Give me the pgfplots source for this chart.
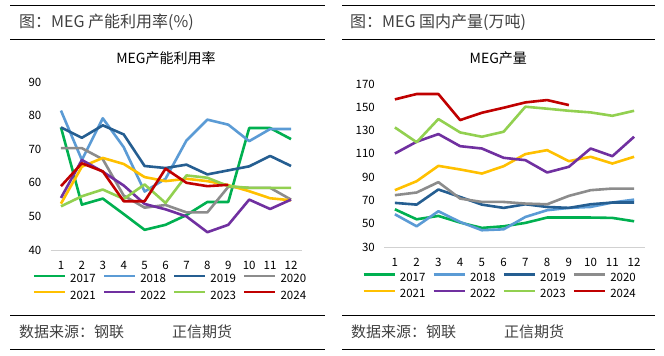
\documentclass[border=0pt]{standalone}
\usepackage{fontspec}
\setmainfont{Noto Sans CJK SC}
\usepackage{pgfplots}
\pgfplotsset{compat=1.18}
\definecolor{c17}{HTML}{00B050}
\definecolor{c18}{HTML}{5B9BD5}
\definecolor{c19}{HTML}{255E91}
\definecolor{c20}{HTML}{8C8C8C}
\definecolor{c21}{HTML}{FFC000}
\definecolor{c22}{HTML}{7030A0}
\definecolor{c23}{HTML}{92D050}
\definecolor{c24}{HTML}{C00000}
\definecolor{hdr}{HTML}{404040}
\pgfplotsset{
  meg/.style={
    scale only axis,
    axis x line*=bottom, axis y line*=left,
    y axis line style={draw=none},
    x axis line style={draw=black!18, line width=0.8pt, -},
    major tick length=0pt,
    xmin=0.5, xmax=12.5, xtick={1,...,12},
    /pgf/number format/assume math mode=true,
    tick label style={font=\fontsize{11.5}{12}\selectfont, text=black},
    yticklabel style={anchor=east, inner sep=0pt, xshift=-9pt},
    xticklabel style={anchor=center, inner sep=0pt, yshift=-15pt},
    title style={font=\fontsize{14}{15}\selectfont, text=black},
    every axis plot/.append style={line width=2.6pt, no markers, line join=round},
    legend columns=4,
    legend cell align=left,
    legend image code/.code={\draw[#1] (0pt,3.5pt) -- (31pt,3.5pt);},
    legend style={draw=none, fill=none, inner sep=0pt, anchor=north west,
      font=\fontsize{11.5}{12}\selectfont,
      nodes={inner sep=0pt, text height=8pt, text depth=1pt},
      row sep=7pt,
      /tikz/every odd column/.append style={column sep=4pt},
      /tikz/every even column/.append style={column sep=7pt}},
  }
}
\begin{document}
\begin{tikzpicture}
\useasboundingbox (0pt,0pt) rectangle (664pt,-356pt);
% frame lines
\draw[line width=1pt] (10pt,-5.5pt) -- (325pt,-5.5pt);
\draw[line width=1pt] (10pt,-39.5pt) -- (325pt,-39.5pt);
\draw[line width=1pt] (10pt,-315.5pt) -- (325pt,-315.5pt);
\draw[line width=1pt] (10pt,-349pt) -- (325pt,-349pt);
\draw[line width=1pt] (342pt,-5.5pt) -- (655pt,-5.5pt);
\draw[line width=1pt] (342pt,-39.5pt) -- (655pt,-39.5pt);
\draw[line width=1pt] (342pt,-315.5pt) -- (655pt,-315.5pt);
\draw[line width=1pt] (342pt,-349pt) -- (655pt,-349pt);
\node[anchor=west, inner sep=0pt, text=hdr, font=\fontsize{16}{17}\selectfont] at (19pt,-22pt) {图：MEG 产能利用率(\%)};
\node[anchor=west, inner sep=0pt, text=hdr, font=\fontsize{16}{17}\selectfont] at (350pt,-22pt) {图：MEG 国内产量(万吨)};
\node[anchor=west, inner sep=0pt, text=hdr, font=\fontsize{15}{16}\selectfont] at (19pt,-332pt) {数据来源：钢联};
\node[anchor=west, inner sep=0pt, text=hdr, font=\fontsize{15}{16}\selectfont] at (172pt,-332pt) {正信期货};
\node[anchor=west, inner sep=0pt, text=hdr, font=\fontsize{15}{16}\selectfont] at (351pt,-332pt) {数据来源：钢联};
\node[anchor=west, inner sep=0pt, text=hdr, font=\fontsize{15}{16}\selectfont] at (504pt,-332pt) {正信期货};

% left chart
\begin{axis}[meg,
  at={(50.5pt,-250pt)}, anchor=south west,
  width=251pt, height=168pt,
  ymin=40, ymax=90, ytick={40,50,...,90},
  title={MEG产能利用率}, title style={at={(0.46,1)}, anchor=center, yshift=18pt},
  legend style={at={(-0.072,-0.145)}},
]
\addplot[c17] coordinates {(1,76.5)(2,53.5)(3,55.3)(4,50.7)(5,46)(6,47.5)(7,50.4)(8,54.3)(9,54.3)(10,76.3)(11,76.3)(12,73)};
\addplot[c18] coordinates {(1,81.5)(2,66.8)(3,79.2)(4,70.6)(5,57.4)(6,61.2)(7,72.6)(8,78.8)(9,77.3)(10,72.4)(11,76)(12,76)};
\addplot[c19] coordinates {(1,76.5)(2,73.4)(3,77.1)(4,74.4)(5,65)(6,64.4)(7,65.4)(8,62.5)(9,63.7)(10,64.9)(11,68)(12,65)};
\addplot[c20] coordinates {(1,70.3)(2,70.3)(3,67)(4,56.2)(5,52.6)(6,53.4)(7,51.2)(8,51.2)(9,58.8)(10,58.5)(11,58.5)(12,55)};
\addplot[c21] coordinates {(1,53.8)(2,64.8)(3,67.4)(4,65.6)(5,61.7)(6,60.5)(7,61.2)(8,60.5)(9,59.3)(10,57.5)(11,55.4)(12,54.8)};
\addplot[c22] coordinates {(1,55.5)(2,66.8)(3,63.3)(4,59.2)(5,53.7)(6,52.1)(7,50)(8,45.3)(9,47.5)(10,55)(11,52.2)(12,55)};
\addplot[c23] coordinates {(1,53)(2,56)(3,58)(4,55.2)(5,59.5)(6,54)(7,62.2)(8,61.5)(9,59)(10,58.5)(11,58.5)(12,58.5)};
\addplot[c24] coordinates {(1,59)(2,65.8)(3,63.4)(4,54.5)(5,54.5)(6,64.2)(7,60)(8,59)(9,59.4)};
\legend{2017,2018,2019,2020,2021,2022,2023,2024}
\end{axis}

% right chart
\begin{axis}[meg,
  at={(384pt,-247pt)}, anchor=south west,
  width=261pt, height=163pt,
  ymin=30, ymax=170, ytick={30,50,...,170},
  title={MEG产量}, title style={at={(0.438,1)}, anchor=center, yshift=20pt},
  legend style={at={(-0.084,-0.16)}},
]
\addplot[c17] coordinates {(1,62.4)(2,53.8)(3,56.7)(4,51)(5,46.4)(6,47.8)(7,50.7)(8,55.3)(9,55.3)(10,55.3)(11,55)(12,52.1)};
\addplot[c18] coordinates {(1,58.1)(2,47.8)(3,60.7)(4,51.5)(5,44.4)(6,45.2)(7,55.8)(8,61.6)(9,63.6)(10,64.4)(11,68.2)(12,70.7)};
\addplot[c19] coordinates {(1,67.9)(2,66.4)(3,79.4)(4,73)(5,66.4)(6,63.6)(7,66.7)(8,64.4)(9,63.6)(10,66.7)(11,68.2)(12,68.2)};
\addplot[c20] coordinates {(1,74.5)(2,76.8)(3,85.7)(4,71.6)(5,68.7)(6,68.7)(7,67.3)(8,66.7)(9,73.9)(10,78.8)(11,80.2)(12,80.2)};
\addplot[c21] coordinates {(1,78.8)(2,86.5)(3,99.7)(4,96.6)(5,93.1)(6,99.4)(7,109.8)(8,113.2)(9,103.7)(10,107.5)(11,101.7)(12,107.5)};
\addplot[c22] coordinates {(1,110.3)(2,120.4)(3,127)(4,116.6)(5,114.6)(6,106.6)(7,104.6)(8,94)(9,98.9)(10,114.6)(11,108)(12,124.7)};
\addplot[c23] coordinates {(1,132.7)(2,120)(3,139.9)(4,128.4)(5,124.7)(6,129)(7,150.5)(8,148.8)(9,147)(10,145.6)(11,142.7)(12,147)};
\addplot[c24] coordinates {(1,156.8)(2,161.4)(3,161.4)(4,139)(5,145.3)(6,149.6)(7,154.2)(8,156.2)(9,151.9)};
\legend{2017,2018,2019,2020,2021,2022,2023,2024}
\end{axis}
\end{tikzpicture}
\end{document}
